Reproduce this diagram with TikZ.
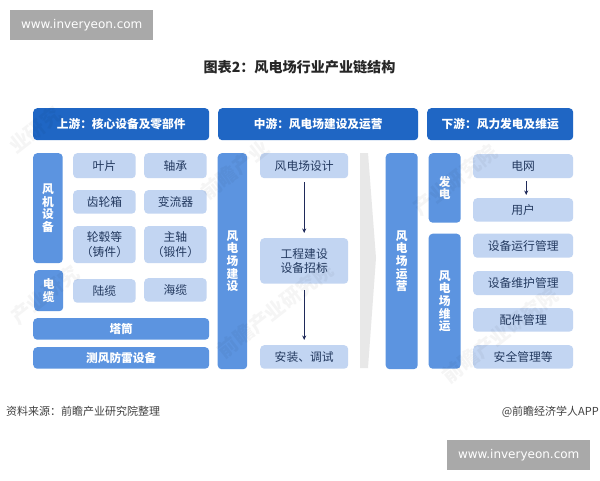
\documentclass[tikz,border=0pt]{standalone}
\usepackage{fontspec}
\setmainfont{Noto Sans CJK SC}
\newfontfamily\latinf{DejaVu Sans}
\usetikzlibrary{arrows.meta}
\definecolor{hdrcol}{HTML}{1F66C4}
\definecolor{midcol}{HTML}{5C94E0}
\definecolor{litecol}{HTML}{C2D5F2}
\definecolor{inkcol}{HTML}{23395F}
\definecolor{wmcol}{HTML}{A9A9A9}
\definecolor{bandcol}{HTML}{E8E8E8}
\definecolor{arrowcol}{HTML}{1F2A5A}
\tikzset{
 px/.style={x=1pt,y=-1pt},
 hdrbox/.style={draw=none,fill=hdrcol,rounded corners=4pt,text=white,font=\bfseries\fontsize{11.7}{13}\selectfont,inner sep=0pt,align=center},
 midbox/.style={draw=none,fill=midcol,rounded corners=4pt,text=white,font=\bfseries\fontsize{11.7}{12.6}\selectfont,inner sep=0pt,align=center},
 litebox/.style={draw=none,fill=litecol,rounded corners=4pt,text=inkcol,font=\fontsize{11.8}{14.5}\selectfont,inner sep=0pt,align=center},
 wmbox/.style={draw=none,fill=wmcol,text=white,font=\latinf\fontsize{12}{14}\selectfont,inner sep=0pt},
 link/.style={draw=arrowcol,line width=1pt,-{Stealth[length=4.5pt,width=4pt]}},
 faint/.style={font=\bfseries\fontsize{20}{22}\selectfont,text=black,opacity=0.04,inner sep=0pt,rotate=38},
 notetext/.style={font=\fontsize{11}{13}\selectfont,text=black!75,inner sep=0pt},
}
\newcommand{\bx}[6]{\node[#1,minimum width=#4pt,minimum height=#5pt,anchor=north west] (#2) at (#3) {#6};}
\begin{document}
\begin{tikzpicture}[px]
\useasboundingbox (0,0) rectangle (600,480);
\fill[white] (0,0) rectangle (600,480);
% grey chevron band
\fill[bandcol] (360,153) -- (368,153) -- (376,258) -- (368,368) -- (360,368) -- cycle;
\node[wmbox,minimum width=143pt,minimum height=30pt,anchor=north west] (wma) at (10,10) {www.inveryeon.com};
\node[wmbox,minimum width=143pt,minimum height=30pt,anchor=north west] (wmb) at (447,440) {www.inveryeon.com};
\node[font=\bfseries\fontsize{14.1}{16}\selectfont,text=black!85] (title) at (299.5,67) {图表2：风电场行业产业链结构};
% headers
\bx{hdrbox}{h1}{33,108}{176}{32}{上游：核心设备及零部件}
\bx{hdrbox}{h2}{218,108}{200}{32}{中游：风电场建设及运营}
\bx{hdrbox}{h3}{427,108}{146}{32}{下游：风力发电及维运}
% left column
\bx{midbox}{fj}{33,153}{29.5}{110}{风\\机\\设\\备}
\bx{midbox}{dl}{34,270}{29}{41}{电\\缆}
\bx{litebox}{yp}{73,153}{62.5}{25}{叶片}
\bx{litebox}{zc}{144,153}{62.5}{25}{轴承}
\bx{litebox}{clx}{73,190}{62.5}{23.5}{齿轮箱}
\bx{litebox}{blq}{144,190}{62.5}{23.5}{变流器}
\bx{litebox}{lg}{73,226}{62.5}{37}{轮毂等\\（铸件）}
\bx{litebox}{zz}{144,226}{62.5}{37}{主轴\\（锻件）}
\bx{litebox}{ll}{73,279}{62.5}{23.5}{陆缆}
\bx{litebox}{hl}{144,278}{62.5}{23.5}{海缆}
\bx{midbox}{tt}{33,318}{176}{21.5}{塔筒}
\bx{midbox}{cf}{33,347}{176}{21.5}{测风防雷设备}
% middle
\bx{midbox}{js}{217.5,153}{29.5}{216}{风\\电\\场\\建\\设}
\bx{litebox}{sj}{260,153}{88}{25}{风电场设计}
\bx{litebox}{gc}{260,238}{88}{45.5}{工程建设\\设备招标}
\bx{litebox}{az}{260,345}{88}{23.5}{安装、调试}
\bx{midbox}{yy}{385.5,153}{32}{216}{风\\电\\场\\运\\营}
\draw[link,shorten <=4pt,shorten >=5pt] (sj) -- (gc);
\draw[link,shorten <=6pt,shorten >=5pt] (gc) -- (az);
% right
\bx{midbox}{fd}{428.5,153}{32}{69.5}{发\\电}
\bx{midbox}{wy}{428.5,233.5}{32}{135}{风\\电\\场\\维\\运}
\bx{litebox}{dw}{473,154}{100}{24}{电网}
\bx{litebox}{yh}{473,198}{100}{23.5}{用户}
\bx{litebox}{yx}{473,233.5}{100}{24}{设备运行管理}
\bx{litebox}{wh}{473,271}{100}{24}{设备维护管理}
\bx{litebox}{pj}{473,308}{100}{23.5}{配件管理}
\bx{litebox}{aq}{473,345}{100}{23.5}{安全管理等}
\draw[link,line width=0.9pt,shorten <=3pt,shorten >=3pt] ([xshift=3pt]dw.south) -- ([xshift=3pt]yh.north);
% footers
\node[notetext,anchor=west] (src) at (6,411.5) {资料来源：前瞻产业研究院整理};
\node[notetext,anchor=east] (app) at (599,411.5) {@前瞻经济学人APP};
% faint diagonal watermarks
\node[faint] (fa) at (35,130) {业研究};
\node[faint] (fb) at (235,170) {前瞻产业};
\node[faint] (fc) at (45,295) {产业研究};
\node[faint] (fd2) at (275,310) {前瞻产业研究院};
\node[faint] (fe) at (500,335) {前瞻产业研究院};
\node[faint] (ff) at (455,180) {产业研究院};
\end{tikzpicture}
\end{document}
